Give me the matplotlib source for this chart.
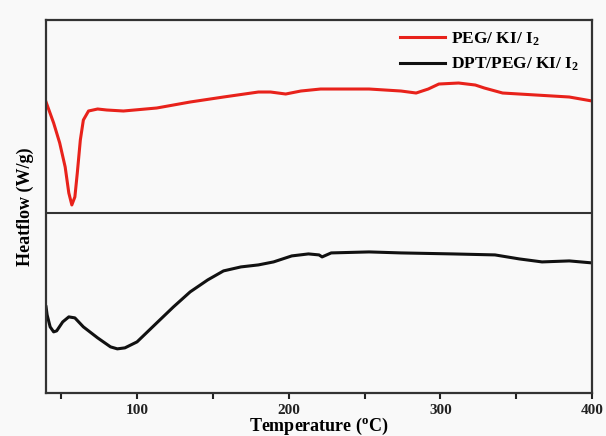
import matplotlib.pyplot as plt
import numpy as np

plt.rcParams['font.family'] = ['Liberation Serif', 'DejaVu Serif']
plt.rcParams['font.weight'] = 'bold'
plt.rcParams['mathtext.fontset'] = 'custom'
plt.rcParams['mathtext.rm'] = 'Liberation Serif:bold'
plt.rcParams['mathtext.bf'] = 'Liberation Serif:bold'
plt.rcParams['mathtext.it'] = 'Liberation Serif:bold'

# PEG/KI/I2 curve (temperature in C, heat flow in arbitrary units)
peg_t = [40, 45, 49, 52.6, 55, 57, 59, 60.6, 62.6, 64.6, 68, 74, 80, 91, 113, 135,
         157, 180, 188, 198, 208, 221, 230, 253, 274, 284, 292, 299, 312, 323, 329,
         341, 363, 385, 400]
peg_hf = [291, 270, 250, 226, 200, 188, 196, 220, 253, 273, 282, 284, 283, 282, 285, 291,
          296, 301, 301, 299, 302, 304, 304, 304, 302, 300, 304, 309, 310, 308, 305,
          300, 298, 296, 292]

# DPT/PEG/KI/I2 curve
dpt_t = [40, 40.7, 42.7, 45, 47, 51, 55, 59, 64.6, 74, 82.5, 87, 92, 100, 113, 124,
         135, 146.6, 157, 168.5, 180, 190, 202, 213, 220, 222, 228, 253, 274, 308,
         336, 352, 367, 385, 400]
dpt_hf = [86, 78, 66, 61, 62, 71, 76, 75, 66, 55, 46, 44, 45, 51, 70, 86,
          101, 113, 122, 126, 128, 131, 137, 139, 138, 136, 140, 141, 140, 139,
          138, 134, 131, 132, 130]

# separator between the two traces
sep_level = 180

fig = plt.figure(figsize=(6.06, 4.36), dpi=100, facecolor='#f9f9f9')
ax = fig.add_axes([0.076, 0.099, 0.901, 0.855])
ax.set_facecolor('#f9f9f9')

ax.plot(peg_t, peg_hf, color='#e8221b', lw=2.2, solid_joinstyle='round',
        label=r'PEG/ KI/ I$_{2}$')
ax.plot(dpt_t, dpt_hf, color='#111111', lw=2.2, solid_joinstyle='round',
        label=r'DPT/PEG/ KI/ I$_{2}$')
ax.axhline(sep_level, color='#333333', lw=1.5)

ax.set_xlim(40, 400)
ax.set_ylim(0, 373)
ax.set_xticks([100, 200, 300, 400])
ax.set_xticks([50, 150, 250, 350], minor=True)
ax.set_yticks([])
ax.tick_params(axis='x', which='both', direction='out', length=4, width=1.5,
               labelsize=11, colors='#222222', pad=4)
for lab in ax.get_xticklabels():
    lab.set_fontweight('bold')
for s in ax.spines.values():
    s.set_color('#333333')
    s.set_linewidth(1.6)

ax.set_xlabel(r'Temperature ($^{o}$C)', fontsize=13, fontweight='bold', labelpad=-1)
ax.set_ylabel('Heatflow (W/g)', fontsize=13, fontweight='bold', labelpad=9)

leg = ax.legend(loc='upper right', bbox_to_anchor=(0.995, 1.0), frameon=False,
                fontsize=12.5, handlelength=2.6, handletextpad=0.3,
                labelspacing=0.45, borderaxespad=0.2)
for t in leg.get_texts():
    t.set_fontweight('bold')

fig.savefig('out.png', dpi=100, facecolor=fig.get_facecolor())
